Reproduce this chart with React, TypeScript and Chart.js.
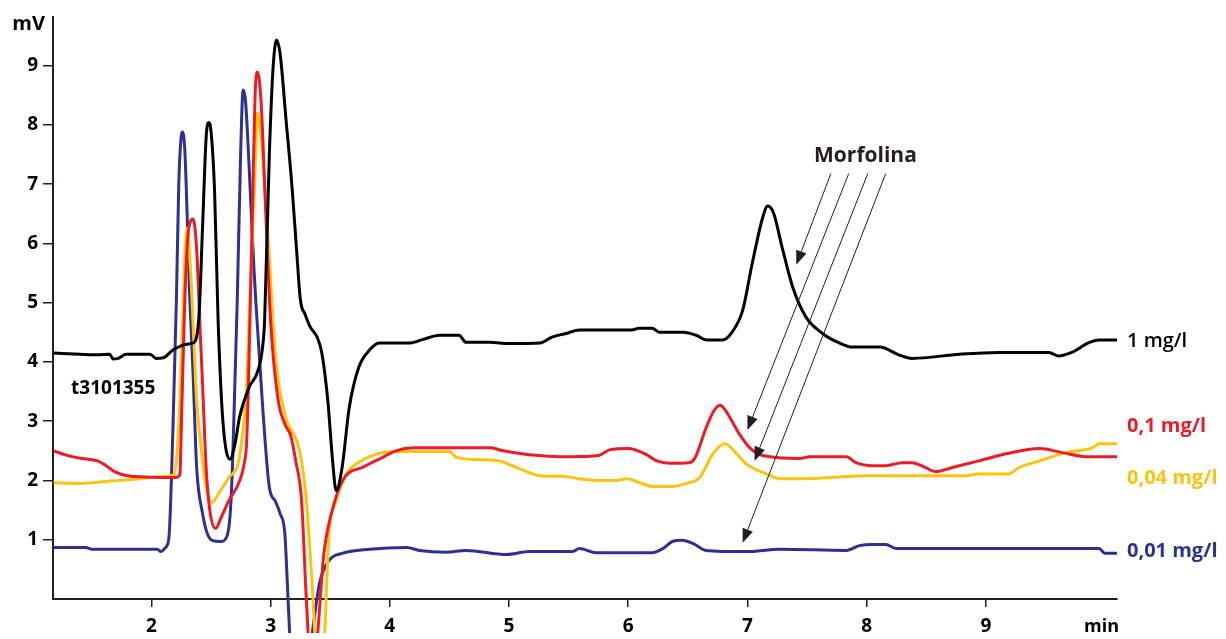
import { useEffect, useRef } from "react";
import { Chart, registerables } from "chart.js";

Chart.register(...registerables);

// Retention time axis (min) and detector signal axis (mV)
const timeTicks = [2, 3, 4, 5, 6, 7, 8, 9];
const signalTicks = [1, 2, 3, 4, 5, 6, 7, 8, 9];

const seriesLabels = ["1 mg/l", "0,1 mg/l", "0,04 mg/l", "0,01 mg/l"];
const seriesColors = ["#000000", "#ED1C24", "#FFC20E", "#2E3192"];
const labelLevels = [4.34, 2.92, 2.03, 0.8];

// [time (min), signal (mV)]
const trace1mg: number[][] = [
  [1.18, 4.15], [1.4, 4.13], [1.55, 4.12], [1.65, 4.13], [1.68, 4.05], [1.72, 4.06], [1.79, 4.13],
  [1.99, 4.13], [2.04, 4.06], [2.1, 4.07], [2.18, 4.2], [2.3, 4.3], [2.36, 4.33], [2.4, 4.8],
  [2.43, 6.3], [2.46, 7.8], [2.48, 8.04], [2.5, 7.9], [2.53, 6.9], [2.56, 4.7], [2.6, 3.0],
  [2.66, 2.36], [2.7, 2.6], [2.74, 3.07], [2.82, 3.57], [2.89, 3.83], [2.93, 4.2], [2.95, 4.7],
  [2.99, 7.52], [3.02, 8.93], [3.05, 9.43], [3.08, 9.2], [3.13, 8.08], [3.18, 6.95], [3.22, 5.84],
  [3.25, 5.05], [3.29, 4.8], [3.33, 4.6], [3.39, 4.42], [3.43, 4.15], [3.48, 3.35], [3.52, 2.34],
  [3.55, 1.83], [3.6, 2.22], [3.66, 3.23], [3.74, 3.91], [3.83, 4.2], [3.91, 4.32], [4.17, 4.32],
  [4.28, 4.38], [4.42, 4.45], [4.58, 4.45], [4.64, 4.33], [4.84, 4.33], [5.0, 4.31], [5.26, 4.32],
  [5.36, 4.42], [5.48, 4.48], [5.59, 4.54], [6.03, 4.54], [6.09, 4.57], [6.2, 4.57], [6.26, 4.5],
  [6.46, 4.5], [6.57, 4.45], [6.66, 4.37], [6.79, 4.37], [6.87, 4.5], [6.96, 4.87], [7.04, 5.66],
  [7.13, 6.45], [7.17, 6.63], [7.22, 6.51], [7.29, 5.94], [7.38, 5.26], [7.49, 4.76], [7.63, 4.48],
  [7.77, 4.32], [7.88, 4.25], [8.11, 4.25], [8.27, 4.12], [8.38, 4.06], [8.78, 4.13], [9.11, 4.16],
  [9.53, 4.16], [9.61, 4.1], [9.72, 4.16], [9.86, 4.32], [9.95, 4.37], [10.1, 4.37],
];

const trace01mg: number[][] = [
  [1.18, 2.5], [1.3, 2.42], [1.42, 2.37], [1.55, 2.33], [1.62, 2.25], [1.7, 2.14], [1.8, 2.08],
  [1.95, 2.06], [2.2, 2.05], [2.24, 2.1], [2.25, 2.8], [2.28, 5.0], [2.31, 6.2], [2.35, 6.41],
  [2.38, 5.9], [2.41, 4.5], [2.43, 3.6], [2.46, 2.2], [2.49, 1.5], [2.54, 1.19], [2.58, 1.35],
  [2.65, 1.66], [2.74, 1.99], [2.78, 2.3], [2.8, 2.68], [2.84, 5.84], [2.87, 8.5], [2.89, 8.89],
  [2.92, 8.4], [2.96, 6.5], [3.0, 4.7], [3.06, 3.4], [3.12, 2.95], [3.17, 2.75], [3.21, 2.34],
  [3.26, 1.66], [3.3, 0.0], [3.33, -0.9], [3.37, -0.9], [3.45, 0.82], [3.54, 1.66], [3.62, 2.05],
  [3.77, 2.22], [3.94, 2.39], [4.05, 2.5], [4.2, 2.55], [4.5, 2.55], [4.85, 2.55], [4.95, 2.5],
  [5.15, 2.44], [5.5, 2.4], [5.75, 2.42], [5.85, 2.52], [6.0, 2.54], [6.15, 2.44], [6.24, 2.33],
  [6.35, 2.29], [6.51, 2.3], [6.56, 2.38], [6.65, 2.87], [6.72, 3.18], [6.77, 3.27], [6.82, 3.17],
  [6.93, 2.79], [7.02, 2.55], [7.13, 2.42], [7.44, 2.37], [7.52, 2.4], [7.83, 2.4], [7.91, 2.3],
  [8.05, 2.25], [8.16, 2.25], [8.3, 2.3], [8.38, 2.3], [8.47, 2.24], [8.58, 2.15], [8.72, 2.22],
  [8.94, 2.33], [9.17, 2.45], [9.45, 2.54], [9.64, 2.47], [9.86, 2.4], [10.1, 2.4],
];

const trace004mg: number[][] = [
  [1.18, 1.96], [1.4, 1.95], [1.6, 1.98], [1.8, 2.01], [1.95, 2.04], [2.12, 2.07], [2.19, 2.1],
  [2.22, 2.6], [2.24, 3.35], [2.26, 4.5], [2.28, 5.7], [2.3, 6.26], [2.33, 5.5], [2.36, 4.2],
  [2.38, 3.35], [2.42, 2.5], [2.46, 1.88], [2.51, 1.63], [2.57, 1.8], [2.65, 2.05], [2.73, 2.3],
  [2.76, 2.7], [2.8, 3.6], [2.82, 4.7], [2.87, 7.24], [2.89, 8.2], [2.92, 7.8], [2.97, 6.39],
  [3.02, 4.7], [3.05, 3.91], [3.13, 3.04], [3.22, 2.67], [3.26, 2.33], [3.3, 1.66], [3.34, 0.53],
  [3.39, -0.9], [3.44, -0.9], [3.49, 1.1], [3.55, 1.66], [3.64, 2.12], [3.77, 2.34], [3.94, 2.47],
  [4.1, 2.49], [4.5, 2.49], [4.56, 2.39], [4.76, 2.35], [4.92, 2.33], [5.0, 2.27], [5.09, 2.2],
  [5.26, 2.08], [5.45, 2.07], [5.59, 2.03], [5.75, 2.0], [5.9, 2.0], [5.99, 2.03], [6.1, 1.96],
  [6.2, 1.9], [6.37, 1.9], [6.49, 1.95], [6.6, 2.05], [6.71, 2.45], [6.81, 2.62], [6.91, 2.45],
  [6.99, 2.28], [7.16, 2.11], [7.27, 2.03], [7.46, 2.03], [7.77, 2.06], [8.0, 2.08], [8.83, 2.08],
  [8.94, 2.11], [9.19, 2.11], [9.28, 2.22], [9.45, 2.33], [9.67, 2.47], [9.89, 2.55], [9.95, 2.62],
  [10.1, 2.62],
];

const trace001mg: number[][] = [
  [1.18, 0.87], [1.45, 0.87], [1.5, 0.84], [2.05, 0.84], [2.08, 0.8], [2.11, 0.85], [2.13, 0.9],
  [2.15, 1.1], [2.18, 2.8], [2.21, 5.04], [2.23, 7.0], [2.25, 7.8], [2.26, 7.88], [2.28, 7.6],
  [2.3, 6.5], [2.32, 5.2], [2.35, 3.8], [2.38, 2.22], [2.43, 1.44], [2.47, 1.1], [2.51, 0.99],
  [2.58, 0.97], [2.63, 1.04], [2.66, 1.4], [2.68, 2.22], [2.7, 3.6], [2.72, 5.0], [2.75, 7.6],
  [2.77, 8.59], [2.79, 8.4], [2.82, 7.3], [2.86, 5.6], [2.88, 4.9], [2.93, 3.35], [2.99, 1.88],
  [3.04, 1.65], [3.08, 1.44], [3.12, 1.1], [3.14, 0.3], [3.16, -0.58], [3.19, -1.4], [3.3, -1.4],
  [3.35, -0.58], [3.41, 0.26], [3.49, 0.65], [3.6, 0.77], [3.83, 0.84], [4.14, 0.87], [4.25, 0.82],
  [4.47, 0.79], [4.64, 0.82], [4.98, 0.75], [5.17, 0.8], [5.53, 0.8], [5.59, 0.85], [5.73, 0.78],
  [6.2, 0.78], [6.29, 0.85], [6.37, 0.97], [6.45, 0.99], [6.55, 0.93], [6.65, 0.82], [6.99, 0.8],
  [7.27, 0.84], [7.83, 0.82], [7.94, 0.9], [8.05, 0.92], [8.16, 0.92], [8.25, 0.85], [9.95, 0.85],
  [10.0, 0.77], [10.1, 0.77],
];

// Morfolina pointers: start near the caption, tip at each peak
const arrowStarts: number[][] = [[7.7, 7.18], [7.85, 7.18], [8.01, 7.18], [8.16, 7.18]];
const arrowTips: number[][] = [[7.41, 5.64], [7.0, 2.85], [7.06, 2.33], [6.96, 0.95]];

const FONT = "'Open Sans', sans-serif";
const INK = "#231F20";

const annotations = {
  id: "chromatogramNotes",
  afterDatasetsDraw(chart: any) {
    const { ctx, chartArea } = chart;
    const xs = chart.scales.x;
    const ys = chart.scales.y;
    ctx.save();

    // pointer arrows
    ctx.strokeStyle = INK;
    ctx.fillStyle = INK;
    ctx.lineWidth = 1;
    arrowStarts.forEach((s, i) => {
      const x0 = xs.getPixelForValue(s[0]);
      const y0 = ys.getPixelForValue(s[1]);
      const x1 = xs.getPixelForValue(arrowTips[i][0]);
      const y1 = ys.getPixelForValue(arrowTips[i][1]);
      const a = Math.atan2(y1 - y0, x1 - x0);
      const len = 14;
      const half = 5.5;
      const bx = x1 - len * Math.cos(a);
      const by = y1 - len * Math.sin(a);
      ctx.beginPath();
      ctx.moveTo(x0, y0);
      ctx.lineTo(bx, by);
      ctx.stroke();
      ctx.beginPath();
      ctx.moveTo(x1, y1);
      ctx.lineTo(bx + half * Math.sin(a), by - half * Math.cos(a));
      ctx.lineTo(bx - half * Math.sin(a), by + half * Math.cos(a));
      ctx.closePath();
      ctx.fill();
    });

    ctx.textBaseline = "middle";

    // caption
    ctx.fillStyle = INK;
    ctx.textAlign = "center";
    ctx.font = `bold 21px ${FONT}`;
    ctx.fillText("Morfolina", xs.getPixelForValue(7.99), ys.getPixelForValue(7.47));

    // run identifier
    ctx.fillStyle = "#000";
    ctx.font = `bold 19px ${FONT}`;
    ctx.fillText("t3101355", xs.getPixelForValue(1.68), ys.getPixelForValue(3.55));

    // concentration labels at the end of each trace
    ctx.textAlign = "left";
    seriesLabels.forEach((label, i) => {
      ctx.fillStyle = seriesColors[i];
      ctx.font = `${i === 0 ? "600" : "bold"} 20px ${FONT}`;
      ctx.fillText(label, chartArea.right + 10, ys.getPixelForValue(labelLevels[i]));
    });

    // axis units
    ctx.fillStyle = "#000";
    ctx.font = `bold 20px ${FONT}`;
    ctx.textAlign = "right";
    ctx.fillText("mV", chartArea.left - 8, 24);
    ctx.textAlign = "center";
    ctx.font = `bold 18px ${FONT}`;
    ctx.fillText("min", xs.getPixelForValue(9.97), chartArea.bottom + 28);

    ctx.restore();
  },
};

export default function App() {
  const canvasRef = useRef<HTMLCanvasElement | null>(null);

  useEffect(() => {
    const canvas = canvasRef.current;
    if (!canvas) return;
    const traces = [trace1mg, trace01mg, trace004mg, trace001mg];
    const chart = new Chart(canvas, {
      type: "line",
      data: {
        datasets: traces.map((t, i) => ({
          label: seriesLabels[i],
          data: t.map(([x, y]) => ({ x, y })),
          borderColor: seriesColors[i],
          backgroundColor: seriesColors[i],
          borderWidth: 3,
          pointRadius: 0,
          fill: false,
          cubicInterpolationMode: "monotone" as const,
          borderJoinStyle: "round" as const,
          // traces run a little past the time axis, down to the canvas foot
          clip: { left: 4, top: 17, right: 4, bottom: 34 } as any,
        })),
      },
      options: {
        responsive: false,
        animation: false,
        events: [],
        layout: { padding: { top: 17, right: 109, left: 0, bottom: 0 } },
        plugins: { legend: { display: false }, tooltip: { enabled: false } },
        scales: {
          x: {
            type: "linear",
            min: 1.175,
            max: 10.1,
            afterBuildTicks: (s: any) => {
              s.ticks = timeTicks.map((v) => ({ value: v }));
            },
            afterFit: (s: any) => {
              s.height = 40;
            },
            grid: { drawOnChartArea: false, drawTicks: true, tickLength: 8, color: INK, lineWidth: 1.5 },
            border: { display: true, color: INK, width: 2 },
            ticks: {
              color: "#000",
              font: { family: FONT, weight: "bold", size: 19 },
              padding: 8,
              maxRotation: 0,
              autoSkip: false,
            },
          },
          y: {
            type: "linear",
            min: 0,
            max: 9.82,
            afterBuildTicks: (s: any) => {
              s.ticks = signalTicks.map((v) => ({ value: v }));
            },
            afterFit: (s: any) => {
              s.width = 53;
            },
            grid: { drawOnChartArea: false, drawTicks: true, tickLength: 10, color: INK, lineWidth: 1.5 },
            border: { display: true, color: INK, width: 2 },
            ticks: {
              color: "#000",
              font: { family: FONT, weight: "bold", size: 19 },
              padding: 5,
              autoSkip: false,
            },
          },
        },
      },
      plugins: [annotations],
    });
    return () => chart.destroy();
  }, []);

  return (
    <div style={{ position: "absolute", left: 0, top: 0, width: 1226, height: 639, background: "#fff" }}>
      <canvas ref={canvasRef} width={1226} height={639} style={{ display: "block" }} />
    </div>
  );
}
